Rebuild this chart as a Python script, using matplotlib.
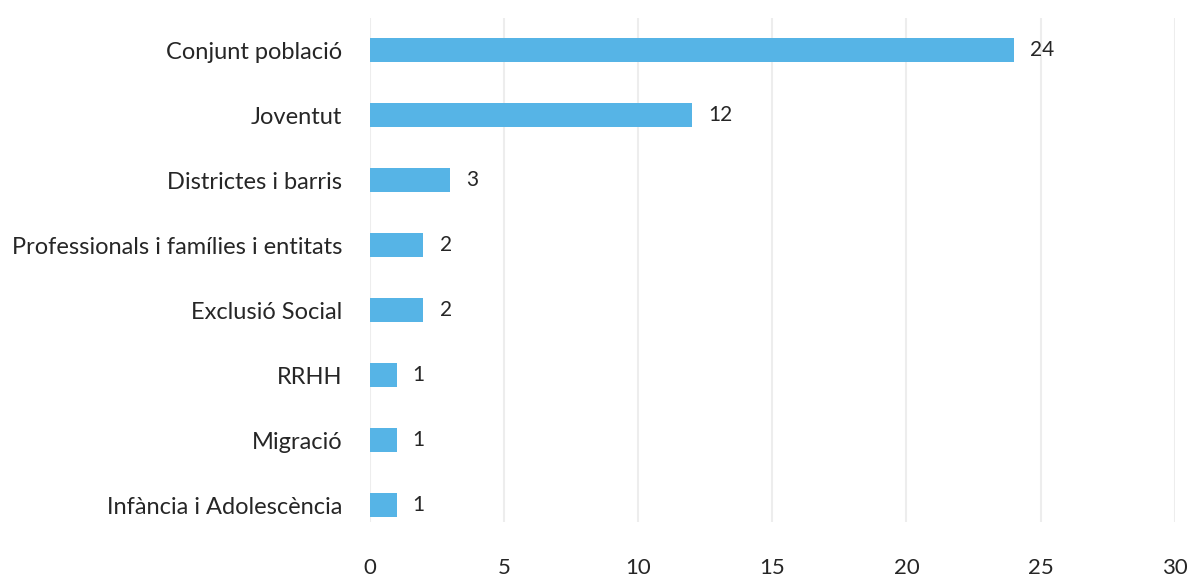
import matplotlib.pyplot as plt
import numpy as np

plt.rcParams['font.family'] = ['Lato', 'DejaVu Sans']

# categories and counts, top to bottom
categories = ['Conjunt població', 'Joventut', 'Districtes i barris',
              'Professionals i famílies i entitats', 'Exclusió Social',
              'RRHH', 'Migració', 'Infància i Adolescència']
counts = [24, 12, 3, 2, 2, 1, 1, 1]
xticks = [0, 5, 10, 15, 20, 25, 30]

fig = plt.figure(figsize=(11.89, 5.82), dpi=100)
ax = fig.add_axes([0.311, 0.1031, 0.677, 0.8668])

y = np.arange(len(categories))
ax.barh(y, counts, height=0.36, color='#56B4E6', zorder=3)
for yi, v in zip(y, counts):
    ax.text(v + 0.6, yi, str(v), va='center', ha='left', fontsize=15, color='#262626')

ax.set_xlim(0, 30)
ax.set_ylim(7.26, -0.5)
ax.set_yticks(y)
ax.set_yticklabels(categories, fontsize=17, color='#262626')
ax.set_xticks(xticks)
ax.set_xticklabels([str(t) for t in xticks], fontsize=16, color='#262626')
ax.tick_params(axis='both', length=0)
ax.tick_params(axis='x', pad=26)
ax.tick_params(axis='y', pad=20)
ax.grid(axis='x', color='#EDEDED', linewidth=1.5, zorder=0)
for s in ax.spines.values():
    s.set_visible(False)

fig.savefig('out.png', dpi=100)
